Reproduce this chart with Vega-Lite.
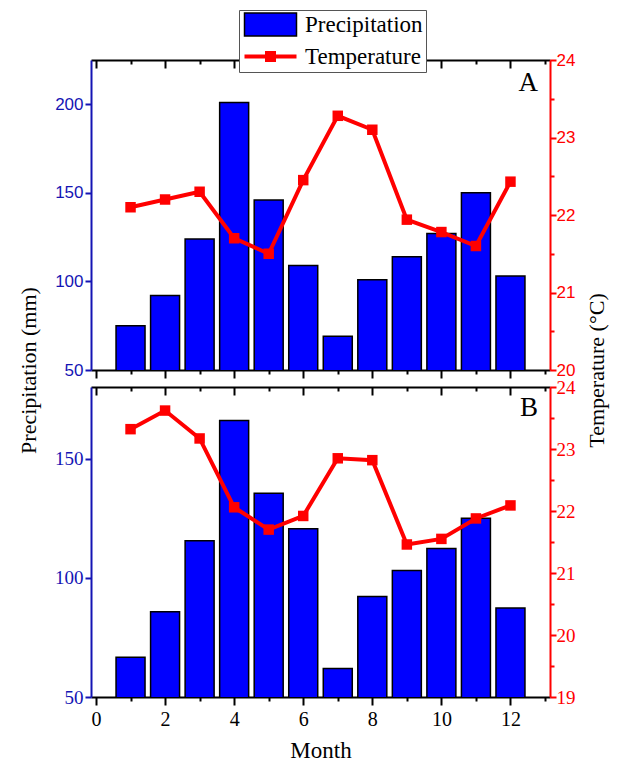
{
  "$schema": "https://vega.github.io/schema/vega-lite/v6.json",
  "padding": {"left": 17, "top": 9, "right": 10, "bottom": 5},
  "bounds": "flush",
  "spacing": 17,
  "background": "white",
  "config": {
    "view": {"stroke": null},
    "axis": {"grid": false, "domainWidth": 2, "tickWidth": 2, "labelFlush": false, "labelOverlap": false}
  },
  "datasets": {
    "a": [
      {"month": 1, "precip": 75, "temp": 22.1},
      {"month": 2, "precip": 92, "temp": 22.2},
      {"month": 3, "precip": 124, "temp": 22.3},
      {"month": 4, "precip": 201, "temp": 21.7},
      {"month": 5, "precip": 146, "temp": 21.5},
      {"month": 6, "precip": 109, "temp": 22.45},
      {"month": 7, "precip": 69, "temp": 23.28},
      {"month": 8, "precip": 101, "temp": 23.1},
      {"month": 9, "precip": 114, "temp": 21.94},
      {"month": 10, "precip": 127, "temp": 21.78},
      {"month": 11, "precip": 150, "temp": 21.6},
      {"month": 12, "precip": 103, "temp": 22.43}
    ],
    "b": [
      {"month": 1, "precip": 66.7, "temp": 23.32},
      {"month": 2, "precip": 85.8, "temp": 23.62},
      {"month": 3, "precip": 115.5, "temp": 23.17},
      {"month": 4, "precip": 166, "temp": 22.06},
      {"month": 5, "precip": 135.4, "temp": 21.7},
      {"month": 6, "precip": 120.6, "temp": 21.92},
      {"month": 7, "precip": 62, "temp": 22.85},
      {"month": 8, "precip": 92.1, "temp": 22.82},
      {"month": 9, "precip": 103, "temp": 21.46},
      {"month": 10, "precip": 112.3, "temp": 21.55},
      {"month": 11, "precip": 125, "temp": 21.88},
      {"month": 12, "precip": 87.3, "temp": 22.09}
    ]
  },
  "vconcat": [
    {
      "width": 459,
      "height": 310,
      "data": {"name": "a"},
      "title": {"text": "A", "anchor": "end", "frame": "group", "orient": "top", "offset": -46, "dx": -12, "font": "Liberation Serif", "fontSize": 27, "fontWeight": "normal", "color": "black"},
      "layer": [
        {
          "mark": {"type": "bar", "size": 29, "stroke": "black", "strokeWidth": 1.5, "fill": "#0000ff", "clip": true},
          "encoding": {
            "x": {"field": "month", "type": "quantitative", "scale": {"domain": [0, 13]},
              "axis": {"orient": "bottom", "values": [0,1,2,3,4,5,6,7,8,9,10,11,12,13], "labels": false, "title": null, "domainColor": "black", "tickColor": "black",
                "tickSize": {"condition": {"test": "datum.value % 2 === 0", "value": 8}, "value": 4}}},
            "y": {"field": "precip", "type": "quantitative", "scale": {"domain": [50, 225], "zero": false, "nice": false},
              "axis": {"orient": "left", "values": [50, 100, 150, 200], "title": "Precipitation (mm)", "titleFont": "Liberation Serif", "titleFontSize": 22, "titleFontWeight": "normal", "titleColor": "black", "titleY": 310, "titlePadding": 14,
                "domainColor": "#1414b4", "tickColor": "#1414b4", "tickSize": 6, "labelColor": "#1414b4", "labelFont": "Liberation Sans", "labelFontSize": 17, "labelPadding": 2}}
          }
        },
        {
          "mark": {"type": "line", "strokeWidth": 4, "color": "#ff0000", "point": {"shape": "square", "size": 110, "filled": true, "color": "#ff0000"}},
          "encoding": {
            "x": {"field": "month", "type": "quantitative", "scale": {"domain": [0, 13]},
              "axis": {"orient": "top", "values": [0,1,2,3,4,5,6,7,8,9,10,11,12,13], "labels": false, "title": null, "domainColor": "black", "tickColor": "black",
                "tickSize": {"condition": {"test": "datum.value % 2 === 0", "value": -8}, "value": -4}}},
            "y": {"field": "temp", "type": "quantitative", "scale": {"domain": [20, 24], "zero": false, "nice": false},
              "axis": {"orient": "right", "values": [20,20.5,21,21.5,22,22.5,23,23.5,24], "labelExpr": "datum.value % 1 === 0 ? format(datum.value, 'd') : ''",
                "title": "Temperature (°C)", "titleFont": "Liberation Serif", "titleFontSize": 22, "titleFontWeight": "normal", "titleColor": "black", "titleY": 310, "titleAngle": 270, "titleBaseline": "top", "titlePadding": 12,
                "domainColor": "#ff0000", "tickColor": "#ff0000", "tickSize": {"condition": {"test": "datum.value % 1 === 0", "value": 6}, "value": 4},
                "labelColor": "#ff0000", "labelFont": "Liberation Sans", "labelFontSize": 17, "labelPadding": 0}}
          }
        },
        {
          "transform": [{"filter": "false"}],
          "mark": {"type": "point", "filled": true},
          "encoding": {
            "color": {"field": "series", "type": "nominal",
              "scale": {"domain": ["Precipitation", "Temperature"], "range": ["#0000ff", "#ff0000"]},
              "legend": {"orient": "none", "legendX": 148, "legendY": -50, "title": null, "strokeColor": "#555555", "fillColor": "white", "padding": 3,
                "labelFont": "Liberation Serif", "labelFontSize": 23, "labelColor": "black", "labelOffset": 23, "symbolOffset": 17, "rowPadding": 6, "symbolSize": 400, "symbolStrokeWidth": 1.5, "symbolOpacity": 1}},
            "shape": {"field": "series", "type": "nominal",
              "scale": {"domain": ["Precipitation", "Temperature"], "range": ["M-2.6,-1.15H2.6V1.15H-2.6Z", "M-2.6,-0.2H2.6V0.2H-2.6ZM-0.55,-0.55H0.55V0.55H-0.55Z"]},
              "legend": {"orient": "none", "legendX": 148, "legendY": -50, "title": null, "strokeColor": "#555555", "fillColor": "white", "padding": 3,
                "labelFont": "Liberation Serif", "labelFontSize": 23, "labelColor": "black", "labelOffset": 23, "symbolOffset": 17, "rowPadding": 6, "symbolSize": 400, "symbolStrokeWidth": 1.5, "symbolOpacity": 1}},
            "stroke": {"field": "series", "type": "nominal",
              "scale": {"domain": ["Precipitation", "Temperature"], "range": ["#000000", "transparent"]},
              "legend": {"orient": "none", "legendX": 148, "legendY": -50, "title": null, "strokeColor": "#555555", "fillColor": "white", "padding": 3,
                "labelFont": "Liberation Serif", "labelFontSize": 23, "labelColor": "black", "labelOffset": 23, "symbolOffset": 17, "rowPadding": 6, "symbolSize": 400, "symbolStrokeWidth": 1.5, "symbolOpacity": 1}}
          }
        }
      ],
      "resolve": {"scale": {"y": "independent"}, "axis": {"x": "independent"}}
    },
    {
      "width": 459,
      "height": 310,
      "data": {"name": "b"},
      "title": {"text": "B", "anchor": "end", "frame": "group", "orient": "top", "offset": -44, "dx": -12, "font": "Liberation Serif", "fontSize": 27, "fontWeight": "normal", "color": "black"},
      "layer": [
        {
          "mark": {"type": "bar", "size": 29, "stroke": "black", "strokeWidth": 1.5, "fill": "#0000ff", "clip": true},
          "encoding": {
            "x": {"field": "month", "type": "quantitative", "scale": {"domain": [0, 13]},
              "axis": {"orient": "bottom", "values": [0,1,2,3,4,5,6,7,8,9,10,11,12,13], "labelExpr": "datum.value % 2 === 0 && datum.value < 13 ? datum.label : ''",
                "title": "Month", "titleFont": "Liberation Serif", "titleFontSize": 23, "titleFontWeight": "normal", "titleColor": "black", "titlePadding": 10,
                "labelFont": "Liberation Serif", "labelFontSize": 20, "labelColor": "black", "labelPadding": 4,
                "domainColor": "black", "tickColor": "black",
                "tickSize": {"condition": {"test": "datum.value % 2 === 0", "value": 8}, "value": 4}}},
            "y": {"field": "precip", "type": "quantitative", "scale": {"domain": [50, 180], "zero": false, "nice": false},
              "axis": {"orient": "left", "values": [50, 100, 150], "title": null,
                "domainColor": "#1414b4", "tickColor": "#1414b4", "tickSize": 6, "labelColor": "#1414b4", "labelFont": "Liberation Serif", "labelFontSize": 19, "labelPadding": 2}}
          }
        },
        {
          "mark": {"type": "line", "strokeWidth": 4, "color": "#ff0000", "point": {"shape": "square", "size": 110, "filled": true, "color": "#ff0000"}},
          "encoding": {
            "x": {"field": "month", "type": "quantitative", "scale": {"domain": [0, 13]},
              "axis": {"orient": "top", "values": [0,1,2,3,4,5,6,7,8,9,10,11,12,13], "labels": false, "title": null, "domainColor": "black", "tickColor": "black",
                "tickSize": {"condition": {"test": "datum.value % 2 === 0", "value": -8}, "value": -4}}},
            "y": {"field": "temp", "type": "quantitative", "scale": {"domain": [19, 24], "zero": false, "nice": false},
              "axis": {"orient": "right", "values": [19,19.5,20,20.5,21,21.5,22,22.5,23,23.5,24], "labelExpr": "datum.value % 1 === 0 ? format(datum.value, 'd') : ''",
                "title": null,
                "domainColor": "#ff0000", "tickColor": "#ff0000", "tickSize": {"condition": {"test": "datum.value % 1 === 0", "value": 6}, "value": 4},
                "labelColor": "#ff0000", "labelFont": "Liberation Serif", "labelFontSize": 19, "labelPadding": 0}}
          }
        }
      ],
      "resolve": {"scale": {"y": "independent"}, "axis": {"x": "independent"}}
    }
  ]
}
